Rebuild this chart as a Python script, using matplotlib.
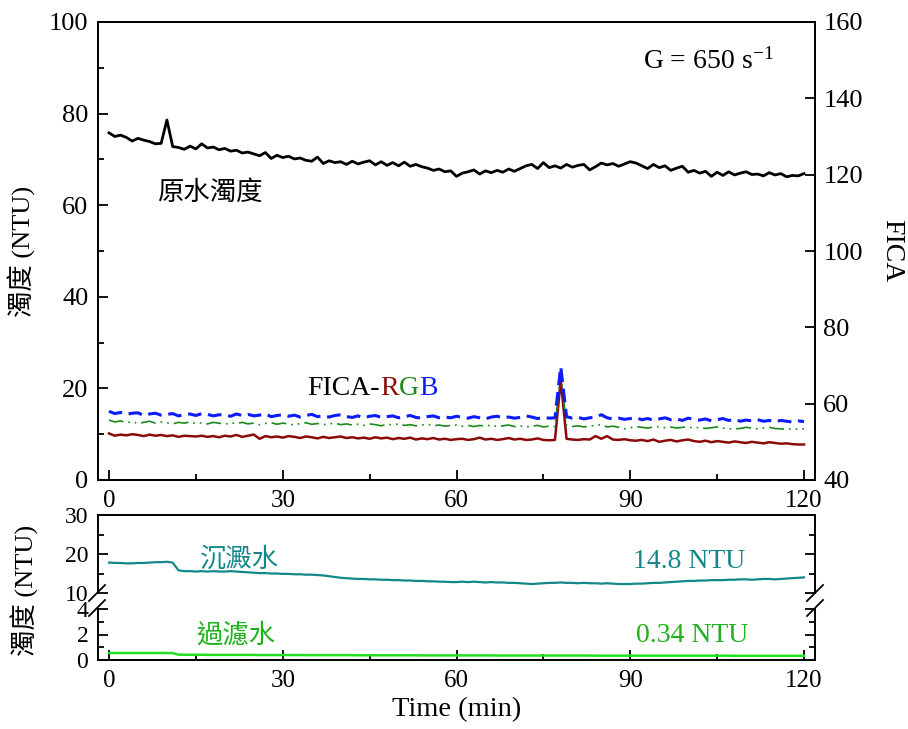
import numpy as np
import matplotlib
matplotlib.use("Agg")
import matplotlib.pyplot as plt
from matplotlib.ticker import MultipleLocator
from matplotlib.lines import Line2D

plt.rcParams['font.family'] = ['Liberation Serif', 'Noto Sans CJK TC']
plt.rcParams['mathtext.fontset'] = 'custom'
plt.rcParams['mathtext.rm'] = 'Liberation Serif'
plt.rcParams['mathtext.it'] = 'Liberation Serif:italic'
plt.rcParams['axes.linewidth'] = 1.4

# ---- data (one reading per minute) ----
minutes = np.arange(0, 121)

raw_turbidity = [
    75.8, 75.0, 75.3, 74.8, 74.0, 74.6, 74.2, 73.9, 73.4, 73.5,
    78.6, 72.8, 72.6, 72.2, 72.9, 72.3, 73.4, 72.5, 72.7, 72.1,
    72.4, 71.8, 72.0, 71.4, 71.6, 71.2, 70.8, 71.5, 70.2, 70.9,
    70.4, 70.7, 70.1, 70.3, 69.8, 69.6, 70.5, 69.1, 69.7, 69.3,
    69.5, 68.9, 69.6, 69.0, 69.4, 69.7, 68.8, 69.5, 68.7, 69.3,
    68.6, 69.4, 68.5, 68.9, 68.4, 68.1, 67.6, 67.9, 67.3, 67.5,
    66.3, 67.0, 67.3, 67.7, 66.8, 67.5, 67.1, 67.6, 67.2, 67.9,
    67.4, 68.0, 68.6, 68.9, 68.0, 69.3, 68.2, 68.6, 68.1, 68.9,
    68.3, 68.7, 68.9, 67.7, 68.4, 69.2, 68.8, 69.1, 68.5, 69.0,
    69.5, 69.2, 68.6, 68.0, 68.9, 68.2, 68.6, 67.6, 68.1, 68.5,
    67.2, 67.6, 67.0, 67.4, 66.3, 67.2, 66.5, 67.3, 66.6, 67.0,
    67.3, 66.7, 66.8, 66.4, 67.1, 66.6, 66.9, 66.2, 66.5, 66.4,
    66.9,
]

fica_b = [
    58.0, 57.4, 57.7, 57.2, 57.5, 57.6, 56.9, 57.3, 57.5, 57.0,
    57.2, 57.4, 56.8, 57.1, 57.3, 56.9, 57.4, 57.2, 56.8, 57.1,
    57.0, 56.7, 57.3, 56.9, 57.2, 56.8, 57.0, 57.3, 56.6, 56.9,
    57.1, 56.7, 57.0, 56.5, 56.9, 57.2, 56.6, 56.8, 56.5, 56.9,
    57.1, 56.6, 56.4, 56.8, 56.3, 56.7, 56.9, 56.4, 56.6, 56.8,
    56.3, 56.6, 56.9, 56.4, 56.2, 56.6, 56.8, 56.3, 56.5, 56.3,
    56.7, 56.4, 56.2, 56.6, 56.3, 56.0, 56.5, 56.7, 56.3, 56.5,
    56.2, 56.4, 56.8, 56.5, 56.1, 56.4, 56.2, 56.3, 69.7, 56.6,
    56.2, 56.4, 56.0, 56.3, 56.5, 57.1, 56.3, 56.0, 56.2, 55.9,
    56.1, 56.3, 55.8, 56.1, 55.7, 56.0, 56.3, 55.8, 56.0, 55.6,
    56.2, 55.9, 55.7, 56.0, 55.5, 55.8, 56.1, 55.6, 55.9, 55.4,
    55.7, 55.5, 55.8, 55.4, 55.6, 55.3, 55.6, 55.4, 55.2, 55.5,
    55.3,
]

fica_g = [
    55.7, 55.2, 55.5, 55.0, 55.3, 54.8, 55.1, 55.4, 54.9, 55.2,
    55.0, 54.7, 55.1, 54.9, 55.2, 54.8, 55.0, 54.7, 55.1, 54.9,
    54.6, 55.0, 54.8, 55.1, 54.7, 54.9, 54.5, 54.8, 55.0, 54.6,
    54.9, 54.7, 54.4, 54.8, 55.0, 54.6, 54.8, 54.5, 54.7, 54.9,
    54.5, 54.7, 54.4, 54.6, 54.3, 54.7, 54.5, 54.2, 54.6, 54.4,
    54.7, 54.3, 54.5, 54.2, 54.4, 54.6, 54.2, 54.4, 54.1, 54.3,
    54.4, 54.1, 54.3, 54.0, 54.3, 54.1, 54.4, 54.0, 54.2, 54.4,
    54.0, 54.2, 53.9, 54.1, 54.3, 53.9, 54.1, 54.0, 68.0, 54.3,
    54.0, 54.2, 53.9, 54.1, 54.3, 54.5, 53.9, 54.1, 53.8, 53.4,
    53.7, 54.0, 53.8, 53.6, 53.9, 54.0, 53.7, 53.9, 53.6, 53.8,
    53.9, 53.6, 53.8, 53.5, 53.7, 53.9, 53.6, 53.4, 53.4, 53.5,
    53.8, 53.6, 53.4, 53.6, 53.8, 53.5, 53.4, 53.3, 53.4, 53.3,
    53.4,
]

fica_r = [
    52.2, 51.6, 51.9, 51.7, 52.0, 51.8, 51.5, 51.9, 51.6, 51.8,
    51.5, 51.7, 51.3, 51.6, 51.5, 51.4, 51.6, 51.3, 51.5, 51.2,
    51.6, 51.4, 51.8, 51.3, 51.6, 51.9, 50.8, 51.5, 51.2, 51.4,
    51.1, 51.5, 51.3, 51.0, 51.4, 51.2, 50.9, 51.3, 51.0, 51.2,
    51.4, 51.0, 51.2, 50.9, 51.1, 50.8, 51.2, 50.9, 51.1, 50.7,
    51.0, 50.8, 51.1, 50.6, 50.9, 50.7, 51.0, 50.6, 50.8, 50.5,
    50.7, 50.8, 50.5, 50.7, 51.1, 50.6, 50.8, 50.5, 50.7, 51.0,
    50.6, 50.8, 50.5, 50.6, 50.9, 50.5, 50.4, 50.5, 66.2, 50.8,
    50.6, 50.5, 50.7, 50.6, 51.5, 50.8, 51.5, 50.6, 50.5, 50.7,
    50.4, 50.3, 50.5, 50.2, 50.6, 50.0, 50.3, 50.5, 50.1, 50.4,
    50.6, 50.2, 50.0, 50.3, 49.9, 50.2, 50.0, 49.8, 50.1, 49.9,
    49.7, 50.0, 49.8, 49.6, 49.9, 49.7, 49.5, 49.6, 49.4, 49.3,
    49.3,
]

settled = [
    17.8, 17.7, 17.7, 17.6, 17.6, 17.7, 17.7, 17.8, 17.9, 17.9,
    18.0, 17.8, 15.8, 15.6, 15.6, 15.5, 15.6, 15.5, 15.6, 15.5,
    15.5, 15.6, 15.5, 15.4, 15.3, 15.2, 15.1, 15.1, 15.0, 15.0,
    14.9, 14.9, 14.8, 14.8, 14.7, 14.7, 14.6, 14.5, 14.3, 14.1,
    13.9, 13.8, 13.7, 13.6, 13.6, 13.5, 13.5, 13.4, 13.4, 13.3,
    13.3, 13.2, 13.2, 13.1, 13.1, 13.0, 13.0, 12.9, 12.9, 12.8,
    12.8, 12.9, 12.8, 12.9, 12.8, 12.7, 12.8, 12.7, 12.7, 12.6,
    12.6, 12.5, 12.4, 12.3, 12.4, 12.5, 12.6, 12.6, 12.7, 12.6,
    12.6, 12.5, 12.6, 12.5, 12.5, 12.4, 12.5, 12.4, 12.3, 12.3,
    12.3, 12.4, 12.4, 12.5, 12.6, 12.6, 12.7, 12.8, 12.9, 13.0,
    13.1, 13.1, 13.2, 13.2, 13.3, 13.3, 13.3, 13.4, 13.4, 13.5,
    13.5, 13.4, 13.5, 13.6, 13.6, 13.5, 13.6, 13.7, 13.8, 13.9,
    14.0,
]

filtered = [
    0.55, 0.55, 0.55, 0.55, 0.55, 0.55, 0.55, 0.55, 0.55, 0.55,
    0.55, 0.54, 0.42, 0.41, 0.41, 0.41, 0.41, 0.40, 0.40, 0.40,
    0.40, 0.40, 0.40, 0.40, 0.40, 0.40, 0.39, 0.39, 0.39, 0.39,
    0.39, 0.39, 0.39, 0.39, 0.38, 0.38, 0.38, 0.38, 0.38, 0.38,
    0.38, 0.38, 0.38, 0.37, 0.37, 0.37, 0.37, 0.37, 0.37, 0.37,
    0.37, 0.37, 0.37, 0.37, 0.36, 0.36, 0.36, 0.36, 0.36, 0.36,
    0.36, 0.36, 0.36, 0.36, 0.36, 0.36, 0.36, 0.35, 0.35, 0.35,
    0.35, 0.35, 0.35, 0.35, 0.35, 0.35, 0.35, 0.35, 0.35, 0.35,
    0.35, 0.35, 0.35, 0.35, 0.34, 0.34, 0.34, 0.34, 0.34, 0.34,
    0.34, 0.34, 0.34, 0.34, 0.34, 0.34, 0.34, 0.34, 0.34, 0.34,
    0.34, 0.34, 0.34, 0.34, 0.34, 0.34, 0.34, 0.34, 0.33, 0.33,
    0.33, 0.33, 0.33, 0.33, 0.33, 0.33, 0.33, 0.33, 0.33, 0.33,
    0.33,
]

time_ticks = [0, 30, 60, 90, 120]
settled_label = "14.8 NTU"
filtered_label = "0.34 NTU"

# ---- styling ----
TEAL = "#14878a"
LIME = "#22e01e"
LIME_TEXT = "#1fb21c"
DARKRED = "#8b0a0a"
GREEN = "#1a8a1a"
BLUE = "#0a1cff"
CJK = ['Noto Sans CJK TC']

W, H = 908, 729
fig = plt.figure(figsize=(W / 100, H / 100), dpi=100)


def box(left, top, right, bottom):
    return [left / W, 1 - bottom / H, (right - left) / W, (bottom - top) / H]


def style_ticks(a, xsize, ysize, **kw):
    a.tick_params(which='both', direction='in', width=1.3, **kw)
    a.tick_params(which='major', length=7)
    a.tick_params(which='minor', length=4)
    a.tick_params(axis='x', labelsize=xsize)
    a.tick_params(axis='y', labelsize=ysize)


XLIM = (-1.9, 121.9)

# ---- upper chart: raw water turbidity and FICA-RGB ----
ax = fig.add_axes(box(98, 22, 815, 480))
ax.plot(minutes, raw_turbidity, color='black', lw=2.0)
ax.set_xlim(*XLIM)
ax.set_ylim(0, 100)
ax.set_xticks(time_ticks)
ax.xaxis.set_minor_locator(MultipleLocator(15))
ax.yaxis.set_major_locator(MultipleLocator(20))
ax.yaxis.set_minor_locator(MultipleLocator(10))
style_ticks(ax, 18, 19, pad=7)
ax.set_ylabel('濁度 (NTU)', fontsize=19, labelpad=9)

ax2 = ax.twinx()
ax2.plot(minutes, fica_r, color=DARKRED, lw=1.8)
ax2.plot(minutes, fica_g, color=GREEN, lw=1.2, ls=(0, (9, 3, 1, 3, 1, 3)))
ax2.plot(minutes, fica_b, color=BLUE, lw=2.2, ls=(0, (4.5, 2.2)))
ax2.set_ylim(40, 160)
ax2.yaxis.set_major_locator(MultipleLocator(20))
style_ticks(ax2, 18, 19, pad=6)
ax2.set_ylabel('FICA', fontsize=20, rotation=270, labelpad=30)

ax.text(17.4, 62.9, '原水濁度', family=CJK, fontsize=19, ha='center', va='center')
ax.text(103.5, 91.3, r'G = 650 s$^{\mathrm{-1}}$', fontsize=20, ha='center', va='center')

t0 = ax.text(34.3, 20.0, 'FICA-', fontsize=20, ha='left', va='center', color='black')
t1 = ax.annotate('R', xy=(1, 0), xycoords=t0, ha='left', va='bottom', fontsize=20, color=DARKRED)
t2 = ax.annotate('G', xy=(1, 0), xycoords=t1, ha='left', va='bottom', fontsize=20, color=GREEN)
ax.annotate('B', xy=(1, 0), xycoords=t2, ha='left', va='bottom', fontsize=20, color=BLUE)

# ---- lower chart: settled and filtered water, broken y axis ----
axs = fig.add_axes(box(98, 515, 815, 593))
axf = fig.add_axes(box(98, 609, 815, 660))

axs.plot(minutes, settled, color=TEAL, lw=1.6)
axs.set_xlim(*XLIM)
axs.set_ylim(10, 30)
axs.yaxis.set_major_locator(MultipleLocator(10))
axs.yaxis.set_minor_locator(MultipleLocator(5))
axs.spines['bottom'].set_visible(False)
axs.set_xticks([])
style_ticks(axs, 18, 17, right=True, pad=7)

axf.plot(minutes, filtered, color=LIME, lw=1.8)
axf.set_xlim(*XLIM)
axf.set_ylim(0, 4)
axf.set_xticks(time_ticks)
axf.xaxis.set_minor_locator(MultipleLocator(15))
axf.yaxis.set_major_locator(MultipleLocator(2))
axf.yaxis.set_minor_locator(MultipleLocator(1))
axf.spines['top'].set_visible(False)
style_ticks(axf, 18, 17, right=True, pad=7)
axf.set_xlabel('Time (min)', fontsize=20.5, labelpad=4)

axs.text(22.3, 18.6, '沉澱水', family=CJK, fontsize=19, color=TEAL, ha='center', va='center')
axs.text(100.2, 18.2, settled_label, fontsize=20, color=TEAL, ha='center', va='center')
axf.text(21.9, 1.95, '過濾水', family=CJK, fontsize=19, color=LIME_TEXT, ha='center', va='center')
axf.text(100.7, 1.95, filtered_label, fontsize=20, color=LIME_TEXT, ha='center', va='center')

fig.text(25 / W, 1 - 590 / H, '濁度 (NTU)', rotation=90, fontsize=19, ha='center', va='center')

# break marks on both sides of the split axis
for x_mid in (97, 815):
    for y_mid in (593, 608):
        fig.add_artist(Line2D([(x_mid - 8) / W, (x_mid + 8) / W],
                              [1 - (y_mid + 8) / H, 1 - (y_mid - 8) / H],
                              transform=fig.transFigure, color='black', lw=1.3))

fig.savefig('out.png', dpi=100)
